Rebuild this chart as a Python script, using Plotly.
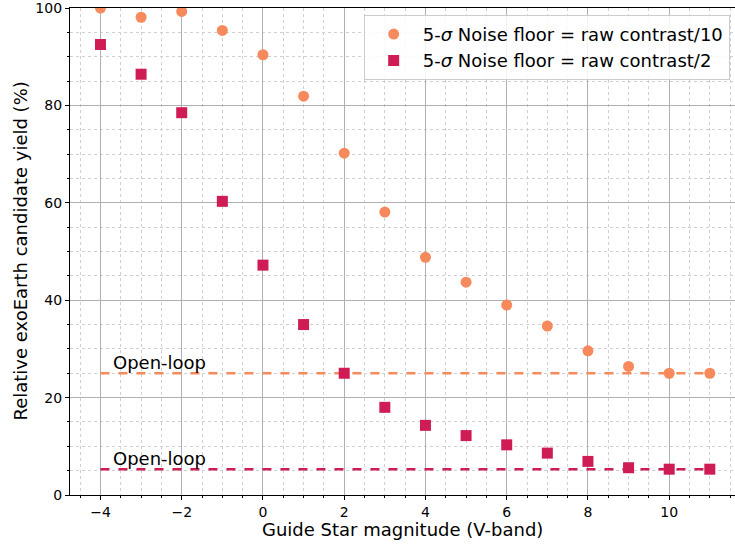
import plotly.graph_objects as go

magnitudes = [-4, -3, -2, -1, 0, 1, 2, 3, 4, 5, 6, 7, 8, 9, 10, 11]
yield_contrast10 = [100.0, 98.1, 99.3, 95.4, 90.4, 81.9, 70.2, 58.1, 48.8, 43.7, 39.0, 34.7, 29.6, 26.4, 25.0, 25.0]
yield_contrast2 = [92.5, 86.4, 78.5, 60.3, 47.2, 35.0, 25.0, 18.0, 14.3, 12.2, 10.3, 8.6, 6.9, 5.6, 5.3, 5.3]
openloop_10 = 25.0
openloop_2 = 5.3
line_x = [-4, 11]

ORANGE = "#F68A5C"
CRIMSON = "#CF1C55"
FONT = "DejaVu Sans"

fig = go.Figure()
fig.add_trace(go.Scatter(x=line_x, y=[openloop_10, openloop_10], mode="lines",
                         line=dict(color=ORANGE, width=2.5, dash="dash"), showlegend=False))
fig.add_trace(go.Scatter(x=line_x, y=[openloop_2, openloop_2], mode="lines",
                         line=dict(color=CRIMSON, width=2.5, dash="dash"), showlegend=False))
fig.add_trace(go.Scatter(x=magnitudes, y=yield_contrast10, mode="markers",
                         marker=dict(symbol="circle", size=11, color=ORANGE),
                         name="5-<i>σ</i> Noise floor = raw contrast/10"))
fig.add_trace(go.Scatter(x=magnitudes, y=yield_contrast2, mode="markers",
                         marker=dict(symbol="square", size=11, color=CRIMSON),
                         name="5-<i>σ</i> Noise floor = raw contrast/2"))

for yv in [openloop_10, openloop_2]:
    fig.add_annotation(x=-3.75, y=yv, text="Open-loop", showarrow=False,
                       xanchor="left", yanchor="bottom", yshift=-2,
                       font=dict(family=FONT, size=18, color="black"))

fig.add_annotation(xref="paper", yref="paper", x=0.5, y=0, yshift=-34,
                   text="Guide Star magnitude (V-band)", showarrow=False,
                   xanchor="center", yanchor="middle", font=dict(family=FONT, size=18))
fig.add_annotation(xref="paper", yref="paper", x=0, y=0.5, xshift=-50,
                   text="Relative exoEarth candidate yield (%)", showarrow=False, textangle=-90,
                   xanchor="center", yanchor="middle", font=dict(family=FONT, size=18))

fig.update_layout(
    width=735, height=544,
    margin=dict(l=70, r=0, t=8, b=49, autoexpand=False),
    paper_bgcolor="white", plot_bgcolor="white",
    font=dict(family=FONT, color="black"),
    legend=dict(x=0.992, y=0.986, xanchor="right", yanchor="top", itemwidth=48,
                bgcolor="rgba(255,255,255,0.85)", bordercolor="#cccccc", borderwidth=1,
                font=dict(family=FONT, size=18)),
)
fig.update_xaxes(
    range=[-4.75, 11.62], tickmode="array", tickvals=[-4, -2, 0, 2, 4, 6, 8, 10],
    ticktext=["−4", "−2", "0", "2", "4", "6", "8", "10"], automargin=False,
    showline=True, linecolor="black", linewidth=1.2, mirror=True,
    ticks="outside", ticklen=4, tickcolor="black", tickfont=dict(size=14),
    showgrid=True, gridcolor="#b0b0b0", gridwidth=1, zeroline=False,
    minor=dict(dtick=0.5, tick0=0, showgrid=True, gridcolor="#d0d0d0", griddash="dot",
               ticks="outside", ticklen=2, tickcolor="black"),
)
fig.update_yaxes(
    range=[0, 100], tickvals=[0, 20, 40, 60, 80, 100], automargin=False,
    ticklabeloverflow="allow",
    showline=True, linecolor="black", linewidth=1.2,
    ticks="outside", ticklen=4, tickcolor="black", tickfont=dict(size=14),
    showgrid=True, gridcolor="#b0b0b0", gridwidth=1, zeroline=False,
    minor=dict(dtick=5, tick0=0, showgrid=True, gridcolor="#d0d0d0", griddash="dot",
               ticks="outside", ticklen=2, tickcolor="black"),
)

fig.write_html("out.html", config={"displayModeBar": False},
               post_script="document.body.style.margin='0px';")
